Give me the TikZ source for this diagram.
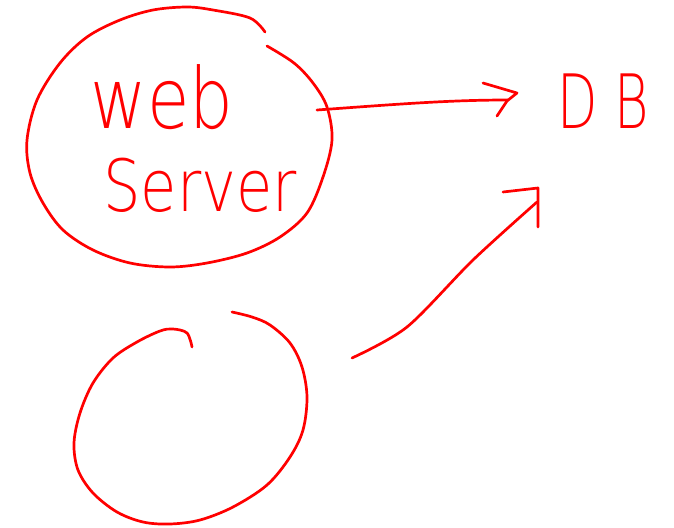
\documentclass[tikz,border=0pt]{standalone}
\usepackage{fontspec}
\newfontfamily\handfont{DejaVu Sans ExtraLight}
\tikzset{
  ink/.style={draw=red, line width=2.7pt, line cap=round, line join=round},
  label/.style={text=red, inner sep=0pt, font=\handfont},
}
\begin{document}
\begin{tikzpicture}[x=1pt,y=-1pt]
\useasboundingbox (0,0) rectangle (674,527);

% web server circle (one stroke, open near the top right)
\draw[ink] plot[smooth, tension=0.55] coordinates {
  (265,32) (250,18) (213,10) (187,7) (153,10) (120,20) (87,37) (60,63)
  (37,100) (27,140) (30,173) (43,203) (63,230) (93,250) (130,263)
  (170,267) (207,263) (247,253) (280,237) (307,213) (323,177) (332,140)
  (327,107) (313,83) (294,63) (267,46)};

% lower circle, open at the top
\draw[ink] plot[smooth, tension=0.55] coordinates {
  (192,347) (187,333) (173,329) (160,331) (137,342) (113,358) (93,383)
  (80,413) (74,443) (78,470) (93,493) (117,512) (143,522) (170,524)
  (200,520) (233,507) (267,485) (290,457) (303,430) (307,397) (302,367)
  (290,343) (270,325) (252,317) (232,312)};

% labels
\node[label] (web) at (162,97) {\fontsize{69}{71}\selectfont\scalebox{1}[1.22]{web}};
\node[label] (server) at (200,185) {\fontsize{59}{61}\selectfont\scalebox{1}[1.22]{Server}};
\node[label] (db) at (603,101) {\fontsize{75}{77}\selectfont\scalebox{0.7}[1]{D B}};

% connector ends
\coordinate (srvout) at (317,110);
\coordinate (in1) at (508,100);
\coordinate (lowout) at (352,358);
\coordinate (in2) at (537,202);

% upper arrow
\draw[ink] (srvout) .. controls (400,104) and (450,100) .. (in1);
\draw[ink] (483,83) -- (517,93) -- (507,101) -- (497,116);

% lower arrow
\draw[ink] plot[smooth, tension=0.5] coordinates {
  (lowout) (407,327) (473,260) (in2)};
\draw[ink] (503,192) -- (538,188) -- (538,227);
\end{tikzpicture}
\end{document}
